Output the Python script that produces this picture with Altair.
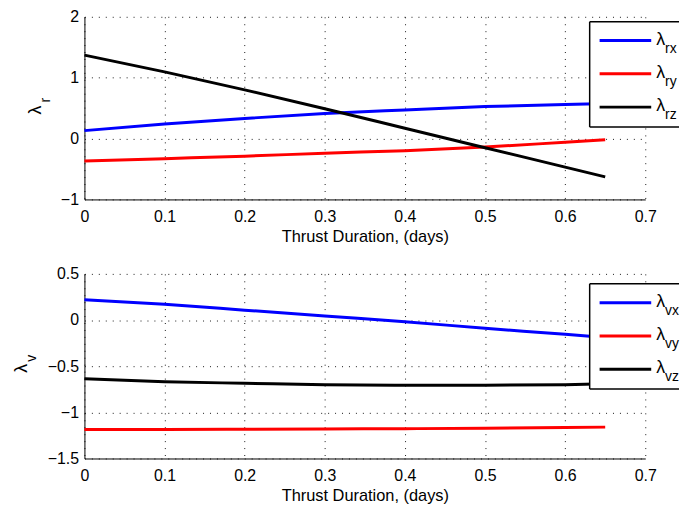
import altair as alt
import pandas as pd

# Thrust duration (days)
t = [0.0, 0.1, 0.2, 0.3, 0.4, 0.5, 0.6, 0.65]

# position costates
lam_rx = [0.13, 0.24, 0.33, 0.41, 0.47, 0.525, 0.56, 0.57]
lam_ry = [-0.37, -0.33, -0.29, -0.24, -0.20, -0.14, -0.06, -0.02]
lam_rz = [1.37, 1.095, 0.80, 0.49, 0.17, -0.15, -0.47, -0.63]

# velocity costates
lam_vx = [0.22, 0.17, 0.107, 0.043, -0.018, -0.09, -0.154, -0.19]
lam_vy = [-1.185, -1.185, -1.183, -1.18, -1.177, -1.172, -1.165, -1.16]
lam_vz = [-0.636, -0.668, -0.685, -0.70, -0.707, -0.707, -0.70, -0.69]

colors = ["#0000ff", "#ff0000", "#000000"]
x_ticks = [0, 0.1, 0.2, 0.3, 0.4, 0.5, 0.6, 0.7]
top_ticks = [-1, 0, 1, 2]
bot_ticks = [-1.5, -1, -0.5, 0, 0.5]

FONT = "Liberation Sans"
W = 565

one = pd.DataFrame({"k": [0]})


def long_df(series):
    rows = []
    for name, vals in series:
        for ti, v in zip(t, vals):
            rows.append({"t": ti, "value": v, "series": name})
    return pd.DataFrame(rows)


def panel(series, ydom, yticks, ysym, ysub, legend_top, ytitle_x, H):
    df = long_df(series)
    names = [s[0] for s in series]
    lines = alt.Chart(df).mark_line(strokeWidth=3, interpolate="monotone").encode(
        x=alt.X("t:Q", scale=alt.Scale(domain=[0, 0.7], nice=False),
                axis=alt.Axis(values=x_ticks, format="~g", title="Thrust Duration, (days)")),
        y=alt.Y("value:Q", scale=alt.Scale(domain=ydom, nice=False),
                axis=alt.Axis(values=yticks, format="~g", title=None)),
        color=alt.Color("series:N", scale=alt.Scale(domain=names, range=colors), legend=None),
        detail="series:N",
    )
    layers = [lines]
    # legend box
    bx0, bx1 = 509, 599
    by0, by1 = legend_top, legend_top + 106
    layers.append(alt.Chart(one).mark_rect(fill="white", stroke=None).encode(
        x=alt.value(bx0), x2=alt.value(bx1), y=alt.value(by0), y2=alt.value(by1)))
    for (x1, y1, x2, y2) in [(bx0, by0, bx1, by0), (bx0, by1, bx1, by1), (bx0, by0, bx0, by1)]:
        layers.append(alt.Chart(one).mark_rule(color="black", strokeWidth=1.5).encode(
            x=alt.value(x1), x2=alt.value(x2), y=alt.value(y1), y2=alt.value(y2)))
    for i, name in enumerate(names):
        ry = legend_top + 19 + i * 33.5
        layers.append(alt.Chart(one).mark_rule(color=colors[i], strokeWidth=3).encode(
            x=alt.value(519), x2=alt.value(571), y=alt.value(ry)))
        layers.append(alt.Chart(one).mark_text(text="λ", font=FONT, fontSize=18, align="left",
                                               baseline="alphabetic", color="black").encode(
            x=alt.value(576), y=alt.value(ry + 4)))
        layers.append(alt.Chart(one).mark_text(text=name, font=FONT, fontSize=14, align="left",
                                               baseline="alphabetic", color="black").encode(
            x=alt.value(585), y=alt.value(ry + 12)))
    # y title (rotated, with subscript)
    layers.append(alt.Chart(one).mark_text(text=ysym, font=FONT, fontSize=18, angle=270,
                                           align="center", baseline="middle", color="black").encode(
        x=alt.value(ytitle_x), y=alt.value(H / 2 + 2)))
    layers.append(alt.Chart(one).mark_text(text=ysub, font=FONT, fontSize=14, angle=270,
                                           align="center", baseline="middle", color="black").encode(
        x=alt.value(ytitle_x + 10), y=alt.value(H / 2 - 8)))
    return alt.layer(*layers).properties(width=W, height=H)


top = panel([("rx", lam_rx), ("ry", lam_ry), ("rz", lam_rz)], [-1, 2], top_ticks, "λ", "r", 5, -49, 184)
bot = panel([("vx", lam_vx), ("vy", lam_vy), ("vz", lam_vz)], [-1.5, 0.5], bot_ticks, "λ", "v", 10, -63, 186)

chart = alt.vconcat(top, bot, spacing=21).properties(
    padding={"left": 5, "top": -1, "right": 0, "bottom": 0},
    background="white",
).configure_view(stroke=None).configure_axis(
    labelFont=FONT, titleFont=FONT, labelFontSize=16, titleFontSize=16.5,
    titleFontWeight="normal", labelColor="black", titleColor="black",
    domainColor="black", domainWidth=1, ticks=False,
    grid=True, gridColor="black", gridDash=[1, 6], gridOpacity=0.9, gridWidth=1,
    labelFlush=False, labelOverlap=False,
).configure_axisX(labelPadding=9, titlePadding=4).configure_axisY(labelPadding=6)

chart.save("out.html", embed_options={"renderer": "svg", "actions": False})
